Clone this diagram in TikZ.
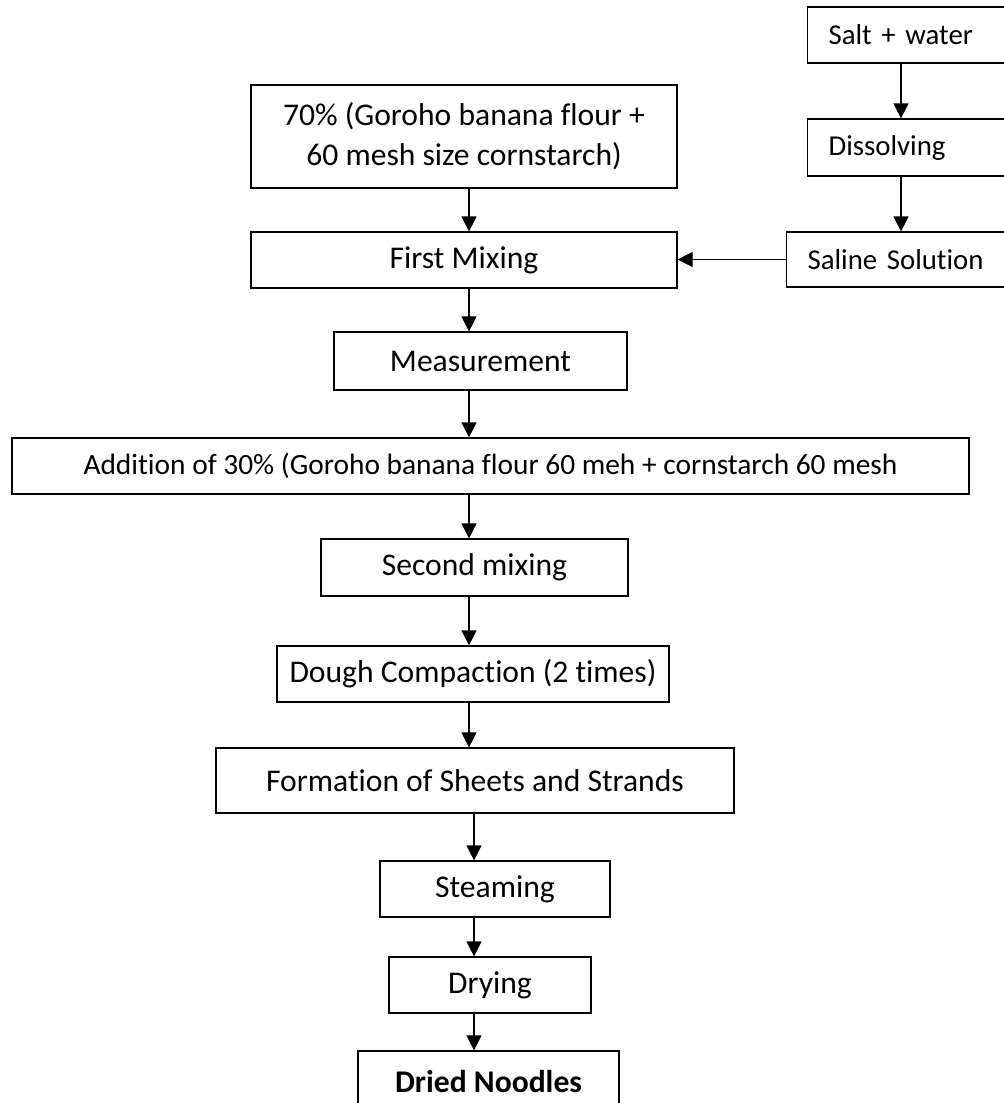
\documentclass[tikz,border=0pt]{standalone}
\usepackage{fontspec}
\setmainfont{Carlito}[Ligatures=NoCommon]
\usetikzlibrary{arrows.meta,positioning}

\begin{document}
\begin{tikzpicture}[
  x=0.5pt, y=-0.5pt,
  line width=0.6pt,
  box/.style={rectangle, draw=black, fill=white, inner sep=0pt, align=center,
              font=\fontsize{15.8}{20}\selectfont},
  sbox/.style={box, anchor=west, text width=110pt, inner xsep=10.5pt, align=left,
               font=\fontsize{14.4}{18}\selectfont},
  arr/.style={-{Triangle[length=7.5pt, width=7.5pt]}},
]
  \useasboundingbox (0,0) rectangle (1003,1103);

  % Salt branch
  \node[sbox, minimum height=28pt] (salt) at (807,35) {Salt + water};
  \node[sbox, minimum height=28.5pt] (dissolve) at (807,147.5) {Dissolving};
  \node[sbox, minimum height=27.5pt] (saline) at (786,259.5) {Saline Solution};

  % Main line
  \node[box, minimum width=213pt, minimum height=51.5pt] (flour70) at (464,136.5) {70\% (Goroho banana flour +\\60 mesh size cornstarch)};
  \node[box, minimum width=213pt, minimum height=28pt] (mix1) at (464,260) {First Mixing};
  \node[box, minimum width=146.5pt, minimum height=29pt] (meas) at (480.5,361) {Measurement};
  \node[box, minimum width=478.5pt, minimum height=28pt, font=\fontsize{14.7}{20}\selectfont] (add30) at (490.5,466) {Addition of 30\% (Goroho banana flour 60 meh + cornstarch 60 mesh};
  \node[box, minimum width=153.5pt, minimum height=28.5pt] (mix2) at (474.5,567.5) {Second mixing};
  \node[box, minimum width=196pt, minimum height=28pt] (dough) at (473,674) {Dough Compaction (2 times)};
  \node[box, minimum width=259pt, minimum height=32.5pt] (sheets) at (475,780.5) {Formation of Sheets and Strands};
  \node[box, minimum width=115pt, minimum height=28pt] (steam) at (495,889) {Steaming};
  \node[box, minimum width=101pt, minimum height=28pt] (dry) at (490,985) {Drying};
  \node[box, minimum width=130.5pt, minimum height=31pt, font=\fontsize{15.8}{20}\selectfont\bfseries] (noodles) at (488.5,1082) {Dried Noodles};

  \coordinate (ax) at (469,0);
  \coordinate (bx) at (474,0);
  \coordinate (rx) at (901,0);

  \draw[arr] (salt.south -| rx) -- (dissolve.north -| rx);
  \draw[arr] (dissolve.south -| rx) -- (saline.north -| rx);
  \draw[arr] (saline.west) -- (saline.west -| mix1.east);

  \draw[arr] (flour70.south -| ax) -- (mix1.north -| ax);
  \draw[arr] (mix1.south -| ax) -- (meas.north -| ax);
  \draw[arr] (meas.south -| ax) -- (add30.north -| ax);
  \draw[arr] (add30.south -| ax) -- (mix2.north -| ax);
  \draw[arr] (mix2.south -| ax) -- (dough.north -| ax);
  \draw[arr] (dough.south -| ax) -- (sheets.north -| ax);
  \draw[arr] (sheets.south -| bx) -- (steam.north -| bx);
  \draw[arr] (steam.south -| bx) -- (dry.north -| bx);
  \draw[arr] (dry.south -| bx) -- (noodles.north -| bx);
\end{tikzpicture}
\end{document}
